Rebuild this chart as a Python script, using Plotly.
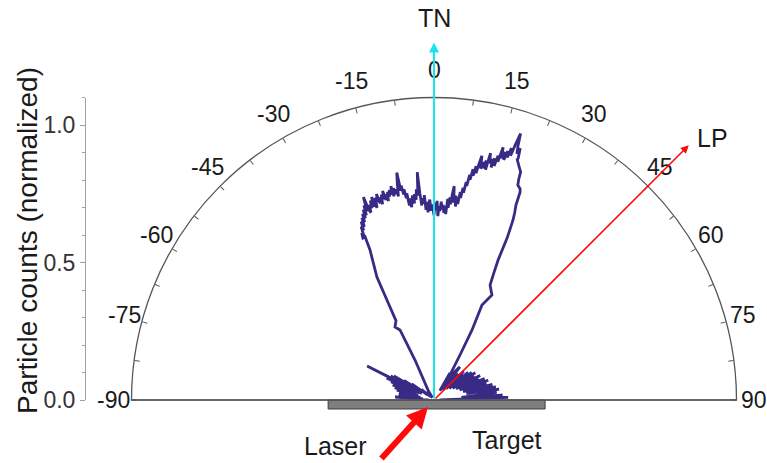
import math
import plotly.graph_objects as go

# ---------------------------------------------------------------------------
# Angular distribution of particle counts (normalized), in degrees from TN
# ---------------------------------------------------------------------------

# low-count spikes at large negative angles
theta_left_wing = [-89.5, -88, -86.5, -85.6, -84, -83, -82, -80.5, -79, -78,
                   -76.5, -75, -74, -72.5, -71, -70, -68.5, -67, -66, -65,
                   -64, -63, -62, -61, -60, -59, -58, -57, -55.5, -54,
                   -52, -50, -47, -44, -41, -38, -34]
r_left_wing = [0.02, 0.09, 0.05, 0.142, 0.04, 0.13, 0.07, 0.12, 0.05, 0.13,
               0.08, 0.14, 0.06, 0.15, 0.09, 0.16, 0.07, 0.17, 0.12, 0.19,
               0.06, 0.273, 0.05, 0.18, 0.14, 0.17, 0.08, 0.13, 0.05, 0.10,
               0.03, 0.06, 0.02, 0.04, 0.015, 0.03, 0.01]

# rising edge on the negative side
theta_left_edge = [-31.0, -25.4, -25.9, -28.1, -25.6, -25.2, -24.9, -23.1, -22.9]
r_left_edge = [0.042, 0.161, 0.283, 0.301, 0.320, 0.402, 0.493, 0.593, 0.644]

# main lobe
theta_lobe = [
    -23.7, -23.4, -23.1, -22.8, -22.5, -22.2, -21.9, -21.6, -21.3, -21.0,
    -20.7, -20.4, -20.1, -19.8, -19.5, -19.2, -18.9, -18.6, -18.3, -18.0,
    -17.7, -17.4, -17.1, -16.8, -16.5, -16.2, -15.9, -15.6, -15.3, -15.0,
    -14.7, -14.4, -14.1, -13.8, -13.5, -13.2, -12.9, -12.6, -12.3, -12.0,
    -11.7, -11.4, -11.1, -10.8, -10.5, -10.2, -9.9, -9.6, -9.3, -9.0,
    -8.7, -8.4, -8.1, -7.8, -7.5, -7.2, -6.9, -6.6, -6.3, -6.0,
    -5.7, -5.4, -5.1, -4.8, -4.5, -4.2, -3.9, -3.6, -3.3, -3.0,
    -2.7, -2.4, -2.1, -1.8, -1.5, -1.2, -0.9, -0.6, -0.3, 0.0,
    0.3, 0.6, 0.9, 1.2, 1.5, 1.8, 2.1, 2.4, 2.7, 3.0,
    3.3, 3.6, 3.9, 4.2, 4.5, 4.8, 5.1, 5.4, 5.7, 6.0,
    6.3, 6.6, 6.9, 7.2, 7.5, 7.8, 8.1, 8.4, 8.7, 9.0,
    9.3, 9.6, 9.9, 10.2, 10.5, 10.8, 11.1, 11.4, 11.7, 12.0,
    12.3, 12.6, 12.9, 13.2, 13.5, 13.8, 14.1, 14.4, 14.7, 15.0,
    15.3, 15.6, 15.9, 16.2, 16.5, 16.8, 17.1, 17.4, 17.7, 18.0,
    18.3, 18.6, 18.9, 19.2,
]
r_lobe = [
    0.643, 0.662, 0.650, 0.684, 0.668, 0.701, 0.679, 0.712, 0.694, 0.725,
    0.706, 0.738, 0.715, 0.752, 0.728, 0.781, 0.731, 0.719, 0.748, 0.733,
    0.761, 0.735, 0.772, 0.744, 0.729, 0.766, 0.748, 0.778, 0.741, 0.763,
    0.736, 0.771, 0.752, 0.783, 0.748, 0.769, 0.742, 0.776, 0.757, 0.781,
    0.762, 0.793, 0.755, 0.784, 0.761, 0.779, 0.752, 0.801, 0.838, 0.771,
    0.789, 0.756, 0.774, 0.741, 0.758, 0.713, 0.739, 0.706, 0.731, 0.748,
    0.718, 0.752, 0.731, 0.769, 0.746, 0.831, 0.752, 0.709, 0.735, 0.715,
    0.746, 0.692, 0.721, 0.683, 0.715, 0.729, 0.688, 0.711, 0.696, 0.672,
    0.718, 0.691, 0.724, 0.669, 0.705, 0.687, 0.722, 0.694, 0.710, 0.681,
    0.706, 0.677, 0.733, 0.701, 0.739, 0.714, 0.752, 0.781, 0.721, 0.748,
    0.708, 0.745, 0.718, 0.762, 0.741, 0.779, 0.762, 0.801, 0.788, 0.829,
    0.812, 0.851, 0.828, 0.864, 0.839, 0.876, 0.905, 0.858, 0.884, 0.862,
    0.891, 0.858, 0.921, 0.884, 0.902, 0.871, 0.906, 0.879, 0.918, 0.897,
    0.953, 0.912, 0.938, 0.909, 0.944, 0.921, 0.958, 0.931, 0.979, 1.019,
    0.972, 0.945, 0.968, 0.931,
]

# falling edge on the positive side
theta_right_edge = [19.1, 20.0, 20.8, 21.0, 21.3, 22.2, 22.5, 22.8, 23.3, 23.7,
                    24.0, 24.3, 24.6, 25.2, 26.0, 28.9, 26.8, 28.5, 30.0, 32.6, 42.0]
r_right_edge = [0.925, 0.904, 0.887, 0.860, 0.839, 0.829, 0.818, 0.769, 0.742, 0.715,
                0.680, 0.646, 0.560, 0.512, 0.465, 0.436, 0.387, 0.290, 0.189, 0.108, 0.049]

# low-count spikes at large positive angles
theta_right_wing = [30.6, 32, 34, 35, 36.5, 38, 39, 40.5, 42, 43,
                    44.5, 46, 47, 48.5, 50, 51, 52.5, 54, 55, 56.5,
                    58, 59, 60.5, 62, 63, 64.5, 66, 67, 68.5, 70,
                    71, 72.5, 74, 75, 76.5, 78, 79, 80.5, 82, 83,
                    84.5, 86, 87, 88, 89.5]
r_right_wing = [0.114, 0.04, 0.12, 0.06, 0.13, 0.153, 0.07, 0.12, 0.05, 0.13,
                0.08, 0.15, 0.06, 0.14, 0.10, 0.16, 0.07, 0.17, 0.11, 0.18,
                0.08, 0.17, 0.12, 0.19, 0.09, 0.18, 0.13, 0.20, 0.10, 0.21,
                0.14, 0.20, 0.11, 0.22, 0.15, 0.23, 0.12, 0.24, 0.16, 0.23,
                0.10, 0.25, 0.14, 0.27, 0.02]

theta = theta_left_wing + theta_left_edge + theta_lobe + theta_right_edge + theta_right_wing
r = r_left_wing + r_left_edge + r_lobe + r_right_edge + r_right_wing

# angular ticks every 7.5 deg, labelled every 15 deg
angle_ticks = [-90 + 7.5 * i for i in range(25)]
angle_labels = [-90, -75, -60, -45, -30, -15, 0, 15, 30, 45, 60, 75, 90]

# radial scale ticks
count_ticks = [0.0, 0.5, 1.0]

# reference directions (deg from TN) and arrow lengths (normalized units)
TN_ANGLE, TN_LEN = 0, 1.30
LP_ANGLE, LP_LEN = 45, 1.31
laser_tail = (-0.196, -0.218)
laser_head = (-0.022, -0.025)
target_x = [-0.385, 0.404]
target_y = [-0.0327, 0.0]

# ---------------------------------------------------------------------------
# layout geometry (pixels)
# ---------------------------------------------------------------------------
W, H = 767, 463
CX, CY = 434, 400          # pole position
S = 275                     # pixels per normalized unit
R_MAX = 1.1
R_PX = R_MAX * S
AXIS_X = 86                 # x of the left count axis
LABEL_RX, LABEL_RY = 1.164, 1.20   # where the angle labels sit (normalized units)

FONT = "Arial, Liberation Sans, Helvetica, sans-serif"
NAVY = "#392a85"
CYAN = "#18e4f0"
RED = "#ff0a0a"
GREY = "#555555"
TEXT = "#1a1a1a"


def dir_xy(angle_deg, rx, ry=None):
    a = math.radians(angle_deg)
    return rx * math.sin(a), (rx if ry is None else ry) * math.cos(a)


fig = go.Figure()

fig.add_trace(go.Scatterpolar(
    theta=theta, r=r, mode="lines",
    line=dict(color=NAVY, width=2.8),
    hoverinfo="skip", showlegend=False,
))

# target plate
fig.add_trace(go.Scatter(
    x=[target_x[0], target_x[1], target_x[1], target_x[0], target_x[0]],
    y=[target_y[0], target_y[0], target_y[1], target_y[1], target_y[0]],
    mode="lines", fill="toself", fillcolor="#7f7f7f",
    line=dict(color="#3c3c3c", width=1),
    xaxis="x", yaxis="y", hoverinfo="skip", showlegend=False,
))

# placeholder so the count axis gets its own subplot
fig.add_trace(go.Scatter(x=[None], y=[None], xaxis="x2", yaxis="y2",
                         mode="lines", hoverinfo="skip", showlegend=False))

x_rng = [(0 - CX) / S, (W - CX) / S]
y_rng = [(CY - H) / S, CY / S]
y_dom = [(H - CY) / H, (H - CY + R_PX) / H]

fig.update_layout(
    width=W, height=H,
    margin=dict(l=0, r=0, t=0, b=0, autoexpand=False),
    paper_bgcolor="white", plot_bgcolor="rgba(0,0,0,0)",
    font=dict(family=FONT, color=TEXT),
    showlegend=False,
    polar=dict(
        domain=dict(x=[(CX - R_PX) / W, (CX + R_PX) / W], y=y_dom),
        sector=[0, 180],
        bgcolor="rgba(0,0,0,0)",
        radialaxis=dict(visible=False, range=[0, R_MAX]),
        angularaxis=dict(
            rotation=90, direction="clockwise", thetaunit="degrees",
            tickmode="array", tickvals=angle_ticks, showticklabels=False,
            ticks="inside", ticklen=5, tickwidth=1, tickcolor=GREY,
            showline=True, linecolor=GREY, linewidth=1.3, showgrid=False,
        ),
    ),
    # full-figure frame in normalized units for the markers and arrows
    xaxis=dict(domain=[0, 1], range=x_rng, visible=False, fixedrange=True,
               automargin=False),
    yaxis=dict(domain=[0, 1], range=y_rng, visible=False, fixedrange=True,
               automargin=False),
    # count axis on the left
    xaxis2=dict(domain=[AXIS_X / W, (AXIS_X + 10) / W], anchor="y2",
                visible=False, fixedrange=True, automargin=False),
    yaxis2=dict(
        domain=y_dom, anchor="x2", side="left", range=[0, R_MAX],
        showline=True, linecolor="#a0a0a0", linewidth=1,
        tickmode="array", tickvals=count_ticks,
        ticktext=[f"{v:.1f}" for v in count_ticks],
        ticks="outside", ticklen=5, tickcolor="#a0a0a0",
        minor=dict(ticks="outside", dtick=0.1, tick0=0, ticklen=3,
                   tickcolor="#a0a0a0", showgrid=False),
        showgrid=False, zeroline=False, fixedrange=True, automargin=False,
        tickfont=dict(size=23, color="#333333", family=FONT),
    ),
)

# diameter of the half disc
fig.add_shape(type="line", xref="x", yref="y", x0=-R_MAX, x1=R_MAX, y0=0, y1=0,
              line=dict(color=GREY, width=1.2), layer="above")

# angle labels around the rim
for a in angle_labels:
    lx, ly = dir_xy(a, LABEL_RX, LABEL_RY)
    fig.add_annotation(x=lx, y=ly, xref="x", yref="y", text=str(a), showarrow=False,
                       xanchor="center", yanchor="middle",
                       font=dict(size=23, color=TEXT, family=FONT))

tn_x, tn_y = dir_xy(TN_ANGLE, TN_LEN)
lp_x, lp_y = dir_xy(LP_ANGLE, LP_LEN)

arrow = dict(xref="x", yref="y", axref="x", ayref="y", text="",
             showarrow=True, standoff=0, startstandoff=0)
fig.add_annotation(x=tn_x, y=tn_y, ax=0, ay=0, arrowhead=2, arrowsize=1,
                   arrowwidth=2, arrowcolor=CYAN, **arrow)
fig.add_annotation(x=lp_x, y=lp_y, ax=0, ay=0, arrowhead=2, arrowsize=1,
                   arrowwidth=1.6, arrowcolor=RED, **arrow)
fig.add_annotation(x=laser_head[0], y=laser_head[1], ax=laser_tail[0], ay=laser_tail[1],
                   arrowhead=2, arrowsize=0.7, arrowwidth=6, arrowcolor=RED, **arrow)

labels = [
    ("TN", tn_x, (CY - 18) / S),
    ("LP", (712 - CX) / S, (CY - 138) / S),
    ("Laser", (335 - CX) / S, (CY - 446) / S),
    ("Target", (507 - CX) / S, (CY - 440) / S),
]
for txt, lx, ly in labels:
    fig.add_annotation(x=lx, y=ly, xref="x", yref="y", text=txt, showarrow=False,
                       xanchor="center", yanchor="middle",
                       font=dict(size=25, color=TEXT, family=FONT))

fig.add_annotation(
    x=27 / W, y=(H - 241) / H, xref="paper", yref="paper",
    xanchor="center", yanchor="middle",
    text="Particle counts (normalized)", textangle=-90, showarrow=False,
    font=dict(size=28, color=TEXT, family=FONT),
)

fig.write_html("out.html")
